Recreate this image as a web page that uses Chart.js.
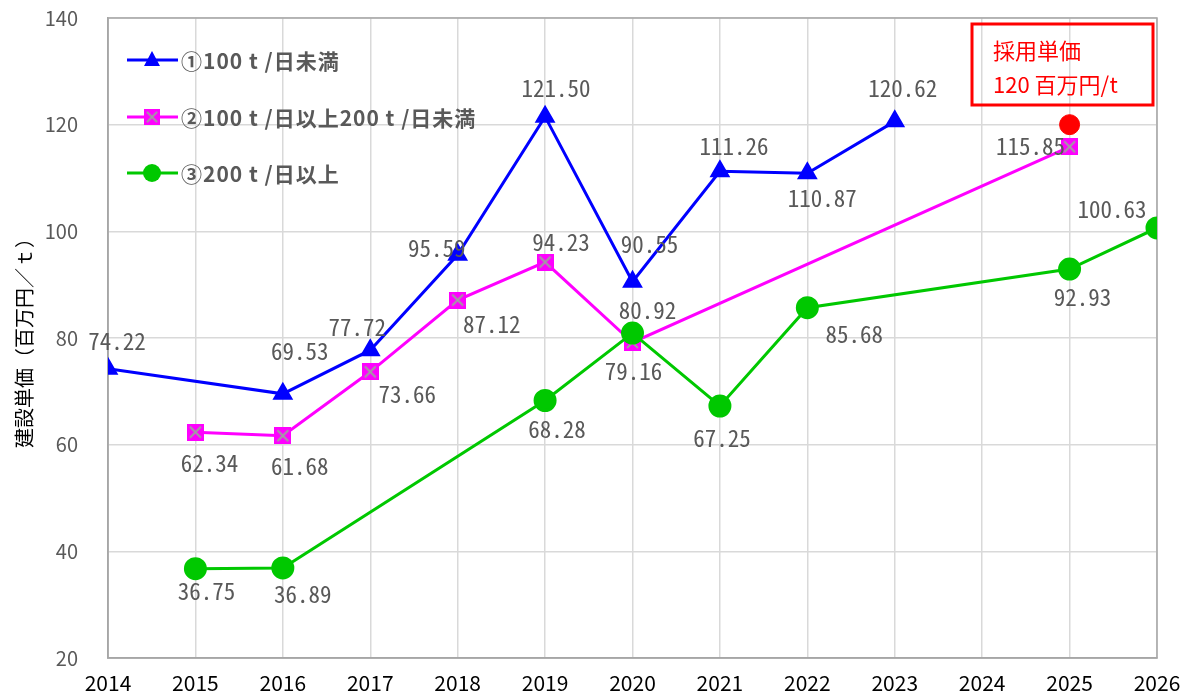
<!DOCTYPE html>
<html>
<head>
<meta charset="utf-8">
<script src="https://cdn.jsdelivr.net/npm/chart.js@4"></script>
<style>
  html, body { margin: 0; padding: 0; background: #fff; }
  #wrap { width: 1189px; height: 695px; }
</style>
</head>
<body>
<div id="wrap"><canvas id="line_chart" width="1189" height="695"></canvas></div>
<script>
// --- data ---
var years = [2014, 2015, 2016, 2017, 2018, 2019, 2020, 2021, 2022, 2023, 2024, 2025, 2026];

var s1Years = [2014, 2016, 2017, 2018, 2019, 2020, 2021, 2022, 2023];
var s1Values = [74.22, 69.53, 77.72, 95.59, 121.50, 90.55, 111.26, 110.87, 120.62];

var s2Years = [2015, 2016, 2017, 2018, 2019, 2020, 2025];
var s2Values = [62.34, 61.68, 73.66, 87.12, 94.23, 79.16, 115.85];

var s3Years = [2015, 2016, 2019, 2020, 2021, 2022, 2025, 2026];
var s3Values = [36.75, 36.89, 68.28, 80.92, 67.25, 85.68, 92.93, 100.63];

var adoptYear = [2025];
var adoptValue = [120];

var seriesNames = ["①100 t /日未満", "②100 t /日以上200 t /日未満", "③200 t /日以上"];
var yTicks = [20, 40, 60, 80, 100, 120, 140];

// label offsets (dx, dy from the point), layout only
var s1Offsets = [[9,-28],[17,-43],[-13,-23],[-21,-7],[11,-28],[17,-37],[14,-25],[15,25],[8,-33]];
var s2Offsets = [[14,31],[17,31],[37,22],[34,24],[16,-20],[1,29],[-39,-1]];
var s3Offsets = [[11,23],[20,26],[12,29],[15,-23],[2,32],[47,27],[13,28],[-45,-19]];

function pairs(xs, ys) {
    return xs.map(function (x, i) { return { x: x, y: ys[i] }; });
}

// square marker with gray cross
function makeCrossBox() {
    var c = document.createElement('canvas');
    c.width = 17; c.height = 17;
    var g = c.getContext('2d');
    g.fillStyle = '#ff00ff';
    g.fillRect(0, 0, 17, 17);
    g.strokeStyle = '#a0a0a0';
    g.lineWidth = 2;
    g.beginPath();
    g.moveTo(3, 3); g.lineTo(14, 14);
    g.moveTo(14, 3); g.lineTo(3, 14);
    g.stroke();
    return c;
}
var crossBox = makeCrossBox();

var labelFont = '23px "Noto Sans Mono CJK JP", "Liberation Mono", monospace';
var labelColor = '#595959';

var valueLabels = {
    id: 'valueLabels',
    afterDatasetsDraw: function (chart) {
        var ctx = chart.ctx;
        ctx.save();
        ctx.font = labelFont;
        ctx.fillStyle = labelColor;
        ctx.textAlign = 'center';
        ctx.textBaseline = 'middle';
        chart.data.datasets.forEach(function (ds, i) {
            if (!ds.labelOffsets) return;
            chart.getDatasetMeta(i).data.forEach(function (pt, j) {
                var off = ds.labelOffsets[j];
                ctx.fillText(ds.data[j].y.toFixed(2), pt.x + off[0], pt.y + off[1]);
            });
        });
        ctx.restore();
    }
};

var frameAndNotes = {
    id: 'frameAndNotes',
    beforeDatasetsDraw: function (chart) {
        var a = chart.chartArea, ctx = chart.ctx;
        ctx.save();
        ctx.strokeStyle = '#a6a6a6';
        ctx.lineWidth = 1.5;
        ctx.strokeRect(a.left, a.top, a.right - a.left, a.bottom - a.top);
        ctx.restore();
    },
    afterDatasetsDraw: function (chart) {
        var ctx = chart.ctx;
        ctx.save();
        // legend
        var rows = [60, 117, 173];
        var colors = ['#0000ff', '#ff00ff', '#00c800'];
        rows.forEach(function (y, i) {
            ctx.strokeStyle = colors[i];
            ctx.lineWidth = 3;
            ctx.beginPath();
            ctx.moveTo(127, y); ctx.lineTo(178, y);
            ctx.stroke();
            ctx.fillStyle = colors[i];
            if (i === 0) {
                ctx.beginPath();
                ctx.moveTo(152, y - 9); ctx.lineTo(160, y + 6); ctx.lineTo(144, y + 6);
                ctx.closePath(); ctx.fill();
            } else if (i === 1) {
                ctx.drawImage(crossBox, 144, y - 8, 16, 16);
            } else {
                ctx.beginPath(); ctx.arc(152, y, 9, 0, Math.PI * 2); ctx.fill();
            }
            ctx.fillStyle = '#595959';
            ctx.font = 'bold 21px "Noto Sans CJK JP", sans-serif';
            ctx.letterSpacing = '1px';
            ctx.textAlign = 'left';
            ctx.textBaseline = 'middle';
            ctx.fillText(seriesNames[i], 181, y + 1);
            ctx.letterSpacing = '0px';
        });
        // adopted price box
        ctx.strokeStyle = '#ff0000';
        ctx.lineWidth = 3;
        ctx.strokeRect(972, 24, 181, 81);
        ctx.fillStyle = '#ff0000';
        ctx.font = '22px "Noto Sans CJK JP", sans-serif';
        ctx.textAlign = 'left';
        ctx.textBaseline = 'middle';
        ctx.fillText('採用単価', 993, 51);
        ctx.fillText('120 百万円/t', 993, 85);
        ctx.restore();
    }
};

new Chart(document.getElementById("line_chart").getContext("2d"), {
    type: 'line',
    data: {
        datasets: [{
            label: seriesNames[0],
            data: pairs(s1Years, s1Values),
            borderColor: '#0000ff',
            backgroundColor: '#0000ff',
            borderWidth: 3,
            pointStyle: 'triangle',
            pointRadius: 9,
            pointHoverRadius: 9,
            labelOffsets: s1Offsets,
            order: 1
        }, {
            label: seriesNames[1],
            data: pairs(s2Years, s2Values),
            borderColor: '#ff00ff',
            backgroundColor: '#ff00ff',
            borderWidth: 3,
            pointStyle: crossBox,
            labelOffsets: s2Offsets,
            order: 3
        }, {
            label: seriesNames[2],
            data: pairs(s3Years, s3Values),
            borderColor: '#00c800',
            backgroundColor: '#00c800',
            borderWidth: 3,
            pointStyle: 'circle',
            pointRadius: 10,
            pointHoverRadius: 10,
            labelOffsets: s3Offsets,
            order: 2
        }, {
            label: '採用単価',
            data: pairs(adoptYear, adoptValue),
            showLine: false,
            borderColor: '#ff0000',
            backgroundColor: '#ff0000',
            pointRadius: 10,
            pointHoverRadius: 10,
            order: 0
        }]
    },
    options: {
        responsive: false,
        animation: false,
        layout: { padding: { top: 18, right: 32, left: 0, bottom: 0 } },
        elements: { line: { tension: 0 } },
        plugins: {
            legend: { display: false },
            tooltip: { enabled: false }
        },
        scales: {
            x: {
                type: 'linear',
                min: years[0],
                max: years[years.length - 1],
                afterBuildTicks: function (axis) {
                    axis.ticks = years.map(function (v) { return { value: v }; });
                },
                afterFit: function (axis) {
                    axis.height = 37;
                    axis.paddingLeft = 0;
                    axis.paddingRight = 0;
                },
                grid: { color: '#d9d9d9', lineWidth: 1.5, drawTicks: false },
                border: { color: '#a6a6a6', width: 1.5 },
                ticks: {
                    padding: 12,
                    maxRotation: 0,
                    autoSkip: false,
                    color: '#000',
                    font: { family: '"Noto Sans CJK JP", sans-serif', size: 21 },
                    callback: function (v) { return String(v); }
                }
            },
            y: {
                min: yTicks[0],
                max: yTicks[yTicks.length - 1],
                afterBuildTicks: function (axis) {
                    axis.ticks = yTicks.map(function (v) { return { value: v }; });
                },
                afterFit: function (axis) {
                    axis.width = 108;
                    axis.paddingTop = 0;
                    axis.paddingBottom = 0;
                },
                grid: { color: '#d9d9d9', lineWidth: 1.5, drawTicks: false },
                border: { color: '#a6a6a6', width: 1.5 },
                title: {
                    display: true,
                    text: '建設単価（百万円／ｔ）',
                    color: '#000',
                    padding: { top: 12, bottom: 0 },
                    font: { family: '"Noto Sans CJK JP", sans-serif', size: 20 }
                },
                ticks: {
                    padding: 30,
                    color: '#595959',
                    font: { family: '"Noto Sans CJK JP", sans-serif', size: 20 }
                }
            }
        }
    },
    plugins: [frameAndNotes, valueLabels]
});
</script>
</body>
</html>
